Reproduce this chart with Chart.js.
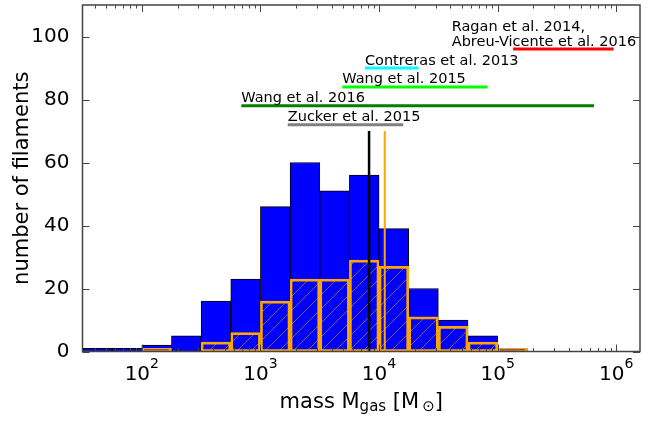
<!DOCTYPE html>
<html>
<head>
<meta charset="utf-8">
<script src="https://cdn.jsdelivr.net/npm/chart.js@4.4.1/dist/chart.umd.min.js"></script>
<style>
  html, body { margin: 0; padding: 0; background: #fff; }
  #wrap { width: 662px; height: 421px; }
</style>
</head>
<body>
<div id="wrap"><canvas id="chart" width="662" height="421"></canvas></div>
<script>
// histogram bins, edges in log10(M / Msun)
const binEdges = [1.5, 1.75, 2.0, 2.25, 2.5, 2.75, 3.0, 3.25, 3.5, 3.75, 4.0, 4.25, 4.5, 4.75, 5.0, 5.25];
const allCounts = [1, 1, 2, 5, 16, 23, 46, 60, 51, 56, 39, 20, 10, 5, 1];
const subCounts = [0, 0, 1, 0, 3, 6, 16, 23, 23, 29, 27, 11, 8, 3, 1];

// median masses (vertical lines)
const medianAll = 8240;
const medianSub = 11170;
const medianTop = 70;

// literature mass ranges
const refNames = [
  ['Ragan et al. 2014,', 'Abreu-Vicente et al. 2016'],
  ['Contreras et al. 2013'],
  ['Wang et al. 2015'],
  ['Wang et al. 2016'],
  ['Zucker et al. 2015'],
];
const refLo = [1.35e5, 7.6e3, 4.9e3, 6.9e2, 1.7e3];
const refHi = [9.5e5, 2.15e4, 8.2e4, 6.5e5, 1.6e4];
const refLevel = [96, 90, 84, 78, 72];
const refTextAt = [4.1e4, 7.6e3, 4.9e3, 6.9e2, 1.7e3];
const refColors = ['#ff0000', '#00ffff', '#00ff00', '#008000', '#808080'];

// axes
const xMin = Math.pow(10, 1.5);
const xMax = Math.pow(10, 6.2);
const xMajor = [1e2, 1e3, 1e4, 1e5, 1e6];
const xExp = ['2', '3', '4', '5', '6'];
const yTicks = [0, 20, 40, 60, 80, 100];

const FONT = 'DejaVu Sans';

const centers = binEdges.slice(0, -1).map((lo, i) => Math.pow(10, (lo + binEdges[i + 1]) / 2));

const hatch = (() => {
  const c = document.createElement('canvas');
  c.width = 14;
  c.height = 14;
  const g = c.getContext('2d');
  g.strokeStyle = 'rgba(255,165,0,0.55)';
  g.lineWidth = 1;
  g.beginPath();
  g.moveTo(-1, 15);
  g.lineTo(15, -1);
  g.stroke();
  return g.createPattern(c, 'repeat');
})();

const refSets = refNames.map((n, i) => ({
  type: 'line',
  data: [{ x: refLo[i], y: refLevel[i] }, { x: refHi[i], y: refLevel[i] }],
  borderColor: refColors[i],
  borderWidth: 3,
  pointRadius: 0,
  order: 0,
}));

// frame, inward ticks, x tick labels, x title, range labels
const decorations = {
  id: 'decorations',
  afterDatasetsDraw(chart) {
    const { ctx, chartArea: a, scales: { x, y } } = chart;
    ctx.save();

    // range labels
    ctx.fillStyle = '#000';
    ctx.font = `14.5px "${FONT}"`;
    ctx.textAlign = 'left';
    ctx.textBaseline = 'alphabetic';
    refNames.forEach((lines, i) => {
      const px = x.getPixelForValue(refTextAt[i]);
      const py = y.getPixelForValue(refLevel[i]) - 3.5;
      lines.forEach((t, j) => {
        ctx.fillText(t, px, py - (lines.length - 1 - j) * 15);
      });
    });

    // spines
    ctx.strokeStyle = '#444';
    ctx.lineWidth = 1.5;
    ctx.strokeRect(a.left, a.top, a.right - a.left, a.bottom - a.top);

    // ticks
    ctx.lineWidth = 1;
    ctx.beginPath();
    const tickX = (v, len) => {
      const px = Math.round(x.getPixelForValue(v)) + 0.5;
      ctx.moveTo(px, a.bottom);
      ctx.lineTo(px, a.bottom - len);
      ctx.moveTo(px, a.top);
      ctx.lineTo(px, a.top + len);
    };
    xMajor.forEach((v) => tickX(v, 7));
    for (let d = 1; d <= 6; d += 1) {
      for (let k = 2; k <= 9; k += 1) {
        const v = k * Math.pow(10, d);
        if (v > xMin && v < xMax) tickX(v, 3.5);
      }
    }
    yTicks.forEach((v) => {
      const py = Math.round(y.getPixelForValue(v)) + 0.5;
      ctx.moveTo(a.left, py);
      ctx.lineTo(a.left + 7, py);
      ctx.moveTo(a.right, py);
      ctx.lineTo(a.right - 7, py);
    });
    ctx.stroke();

    // x tick labels 10^n
    ctx.fillStyle = '#000';
    xMajor.forEach((v, i) => {
      const px = x.getPixelForValue(v);
      ctx.font = `20px "${FONT}"`;
      const wb = ctx.measureText('10').width;
      ctx.font = `14px "${FONT}"`;
      const we = ctx.measureText(xExp[i]).width;
      const left = px - (wb + we) / 2;
      ctx.font = `20px "${FONT}"`;
      ctx.fillText('10', left, 379.5);
      ctx.font = `14px "${FONT}"`;
      ctx.fillText(xExp[i], left + wb, 368);
    });

    // x title: mass M_gas [M_sun]
    const parts = [
      ['mass M', 21, 0],
      ['gas', 15, 3.5],
      [' [M', 21, 0],
      ['\u2009\u2299', 15, 3.5],
      [']', 21, 0],
    ];
    let total = 0;
    parts.forEach((p) => {
      ctx.font = `${p[1]}px "${FONT}"`;
      total += ctx.measureText(p[0]).width;
    });
    let cx = (a.left + a.right) / 2 - total / 2;
    parts.forEach((p) => {
      ctx.font = `${p[1]}px "${FONT}"`;
      ctx.fillText(p[0], cx, 407.5 + p[2]);
      cx += ctx.measureText(p[0]).width;
    });

    ctx.restore();
  },
};

// eslint-disable-next-line no-undef, no-unused-vars
const chart = new Chart(document.getElementById('chart'), {
  type: 'bar',
  data: {
    datasets: [
      ...refSets,
      {
        type: 'line',
        data: [{ x: medianAll, y: 0 }, { x: medianAll, y: medianTop }],
        borderColor: '#000000',
        borderWidth: 2.5,
        pointRadius: 0,
        order: 0,
      },
      {
        type: 'line',
        data: [{ x: medianSub, y: 0 }, { x: medianSub, y: medianTop }],
        borderColor: '#ffa500',
        borderWidth: 2,
        pointRadius: 0,
        order: 0,
      },
      {
        type: 'bar',
        data: centers.map((c, i) => ({ x: c, y: subCounts[i] })),
        backgroundColor: hatch,
        borderColor: '#ffa500',
        borderWidth: 2,
        borderSkipped: false,
        grouped: false,
        barPercentage: 1,
        categoryPercentage: 1,
        order: 1,
      },
      {
        type: 'bar',
        data: centers.map((c, i) => ({ x: c, y: allCounts[i] })),
        backgroundColor: '#0000ff',
        borderColor: '#000000',
        borderWidth: 1,
        borderSkipped: false,
        grouped: false,
        barPercentage: 1,
        categoryPercentage: 1,
        order: 2,
      },
    ],
  },
  options: {
    responsive: false,
    animation: false,
    devicePixelRatio: 1,
    layout: {
      padding: { left: 0, right: 22, top: 5, bottom: 0 },
    },
    plugins: {
      legend: { display: false },
      tooltip: { enabled: false },
    },
    scales: {
      x: {
        type: 'logarithmic',
        min: xMin,
        max: xMax,
        offset: false,
        grid: { display: false },
        border: { display: false },
        ticks: { display: false },
        afterBuildTicks: (scale) => {
          scale.ticks = xMajor.map((v) => ({ value: v, major: true }));
        },
        afterFit: (scale) => {
          scale.height = 69.5;
          scale.paddingLeft = 0;
          scale.paddingRight = 0;
        },
      },
      y: {
        min: 0,
        max: 110,
        grid: { display: false },
        border: { display: false },
        afterBuildTicks: (scale) => {
          scale.ticks = yTicks.map((v) => ({ value: v }));
        },
        afterFit: (scale) => {
          scale.width = 82.5;
          scale.paddingTop = 0;
          scale.paddingBottom = 0;
        },
        ticks: {
          color: '#000',
          padding: 5,
          font: { family: FONT, size: 20 },
        },
        title: {
          display: true,
          text: 'number of filaments',
          color: '#000',
          padding: { top: 10, bottom: 0 },
          font: { family: FONT, size: 21 },
        },
      },
    },
  },
  plugins: [decorations],
});
</script>
</body>
</html>
